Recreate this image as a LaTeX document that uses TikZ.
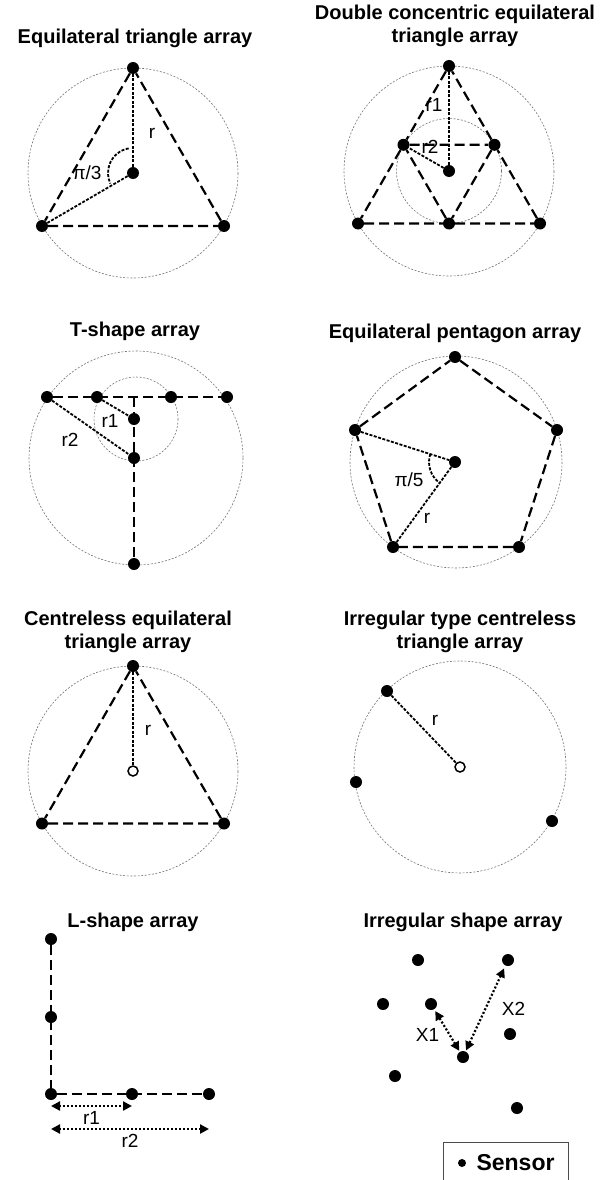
\documentclass[tikz,border=0pt]{standalone}
\usepackage{fontspec}
\setmainfont{Liberation Sans}
\usetikzlibrary{arrows.meta}
\begin{document}
\begin{tikzpicture}[x=1pt,y=-1pt, every node/.style={font=\fontsize{19}{22}\selectfont}, title/.style={font=\bfseries\fontsize{20}{23}\selectfont,align=center,anchor=base}, sensor/.style={circle,fill=black,inner sep=0pt,minimum size=12pt}, hollow/.style={circle,draw=black,fill=white,line width=1.5pt,inner sep=0pt,minimum size=10pt}, ring/.style={draw=black!55,line width=0.6pt,dash pattern=on 2pt off 1.6pt}, link/.style={line width=2.2pt,dash pattern=on 10pt off 5pt}, rad/.style={line width=1.8pt,dash pattern=on 3pt off 1.5pt}, span/.style={{Triangle[length=9pt,width=9pt]}-{Triangle[length=9pt,width=9pt]},line width=2.2pt,dash pattern=on 2pt off 2pt}]
\useasboundingbox (0,0) rectangle (604,1180);
% equilateral triangle
\node[title] (t1) at (135,44) {Equilateral triangle array};
\coordinate (c1) at (133,173);
\draw[ring] (c1) circle (105);
\node[sensor] (et0) at (c1) {};
\node[sensor] (et1) at (133,68) {};
\node[sensor] (et2) at (42,226) {};
\node[sensor] (et3) at (224,226) {};
\draw[link] (et1)--(et2)--(et3)--(et1);
\draw[rad] (et0)--(et1); \draw[rad] (et0)--(et2);
\draw[rad] ([shift={(-100:25)}]c1) arc[start angle=-100,end angle=-205,radius=25];
\node (etr) at (152,133) {r};
\node (eta) at (87,173) {π/3};
% double concentric triangle
\node[title] (t2) at (455,43) {Double concentric equilateral\\triangle array};
\coordinate (c2) at (449,171);
\draw[ring] (c2) circle (105); \draw[ring] (c2) circle (52.5);
\node[sensor] (dc0) at (c2) {};
\node[sensor] (dc1) at (449,66) {};
\node[sensor] (dc2) at (358,223.5) {};
\node[sensor] (dc3) at (540,223.5) {};
\node[sensor] (dc4) at (403.5,144.8) {};
\node[sensor] (dc5) at (494.5,144.8) {};
\node[sensor] (dc6) at (449,223.5) {};
\draw[link] (dc1)--(dc4)--(dc2)--(dc6)--(dc3)--(dc5)--(dc1);
\draw[link] (dc4)--(dc5)--(dc6)--(dc4);
\draw[rad] (dc0)--(dc1); \draw[rad] (dc0)--(dc4);
\node (dcr1) at (434,105) {r1};
\node (dcr2) at (430,147) {r2};
% T-shape
\node[title] (t3) at (135,336) {T-shape array};
\coordinate (c3) at (136,458); \coordinate (c3i) at (136,419);
\draw[ring] (c3) circle (107); \draw[ring] (c3i) circle (42);
\node[sensor] (ts1) at (47,397) {};
\node[sensor] (ts2) at (97,397) {};
\node[sensor] (ts3) at (171,397) {};
\node[sensor] (ts4) at (227,397) {};
\node[sensor] (ts5) at (134,419) {};
\node[sensor] (ts6) at (134,458) {};
\node[sensor] (ts7) at (134,564) {};
\coordinate (tsj) at (134,397);
\draw[link] (ts1)--(ts4); \draw[link] (tsj)--(ts7);
\draw[rad] (ts2)--(ts5); \draw[rad] (ts1)--(ts6);
\node (tsr1) at (110,421) {r1};
\node (tsr2) at (70,440) {r2};
% pentagon
\node[title] (t4) at (455,338) {Equilateral pentagon array};
\coordinate (c4) at (456,462);
\draw[ring] (c4) circle (106);
\node[sensor] (pg0) at (455,462) {};
\node[sensor] (pg1) at (455,357) {};
\node[sensor] (pg2) at (355,430) {};
\node[sensor] (pg3) at (557,430) {};
\node[sensor] (pg4) at (393,547) {};
\node[sensor] (pg5) at (519,547) {};
\draw[link] (pg1)--(pg3)--(pg5)--(pg4)--(pg2)--(pg1);
\draw[rad] (pg2)--(pg0)--(pg4);
\draw[rad] ([shift={(-162:26)}]pg0.center) arc[start angle=-162,end angle=-234,radius=26];
\node (pga) at (409,480) {π/5};
\node (pgr) at (427,518) {r};
% centreless triangle
\node[title] (t5) at (128,648) {Centreless equilateral\\triangle array};
\coordinate (c5) at (133,771);
\draw[ring] (c5) circle (105);
\node[sensor] (cl1) at (133,666) {};
\node[sensor] (cl2) at (42,823.5) {};
\node[sensor] (cl3) at (224,823.5) {};
\draw[link] (cl1)--(cl2)--(cl3)--(cl1);
\draw[rad] (cl1)--(c5);
\node[hollow] (cl0) at (c5) {};
\node (clr) at (148,730) {r};
% irregular centreless
\node[title] (t6) at (460,648) {Irregular type centreless\\triangle array};
\coordinate (c6) at (460,767);
\draw[ring] (c6) circle (106);
\node[sensor] (ic1) at (387,691) {};
\node[sensor] (ic2) at (356,782) {};
\node[sensor] (ic3) at (552,821) {};
\draw[rad] (ic1)--(c6);
\node[hollow] (ic0) at (c6) {};
\node (icr) at (435,720) {r};
% L-shape
\node[title] (t7) at (133,927) {L-shape array};
\node[sensor] (ls1) at (51,939) {};
\node[sensor] (ls2) at (51,1017) {};
\node[sensor] (ls3) at (51,1094) {};
\node[sensor] (ls4) at (132,1094) {};
\node[sensor] (ls5) at (209,1094) {};
\draw[link] (ls1)--(ls3)--(ls5);
\draw[span] ([yshift=-12pt]ls3.center) -- node[below=1pt] (lsr1) {r1} ([yshift=-12pt]ls4.center);
\draw[span] ([yshift=-35pt]ls3.center) -- node[below=1pt] (lsr2) {r2} ([yshift=-35pt]ls5.center);
% irregular shape
\node[title] (t8) at (463,927) {Irregular shape array};
\node[sensor] (is1) at (418,960) {};
\node[sensor] (is2) at (508,960) {};
\node[sensor] (is3) at (383,1004) {};
\node[sensor] (is4) at (431,1004) {};
\node[sensor] (is5) at (510,1034) {};
\node[sensor] (is6) at (463,1057) {};
\node[sensor] (is7) at (395,1076) {};
\node[sensor] (is8) at (517,1108) {};
\draw[span,shorten <=2pt,shorten >=1pt] (is4) -- node[pos=0.6,left=6pt] (isx1) {X1} (is6);
\draw[span,shorten <=1pt,shorten >=3pt] (is6) -- node[midway,right=12pt] (isx2) {X2} (is2);
% legend
\coordinate (kbl) at (443,1180); \coordinate (ktr) at (568,1142); \coordinate (kbr) at (568,1180);
\draw[black!70,line width=0.8pt] (kbl) |- (ktr) -- (kbr);
\node[sensor,minimum size=8pt] (key) at (462,1163) {};
\node[anchor=base west,font=\bfseries\fontsize{23}{26}\selectfont] (keytext) at (473,1170) {Sensor};
\end{tikzpicture}
\end{document}
